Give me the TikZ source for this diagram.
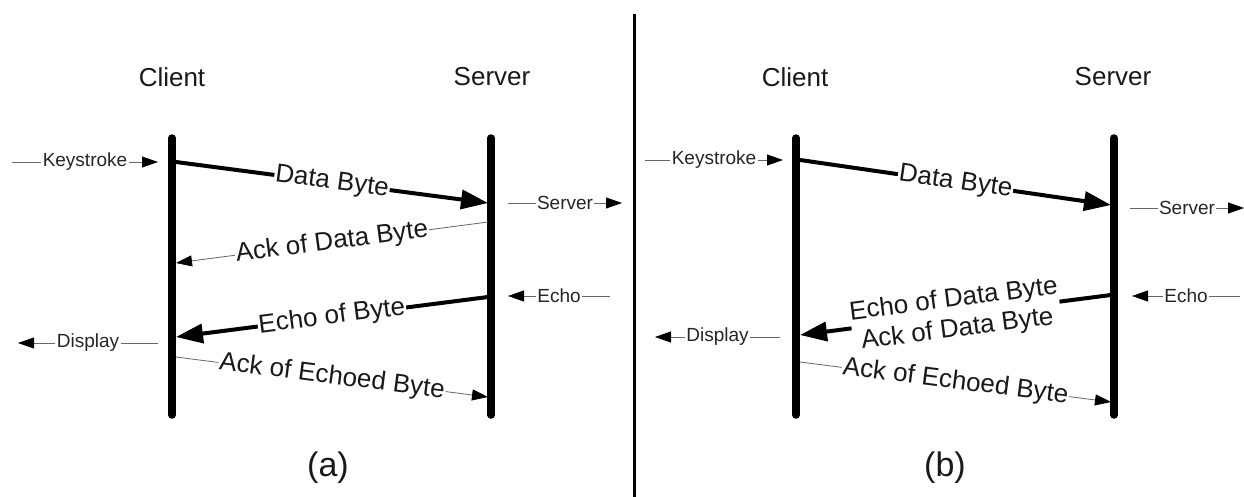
\documentclass[tikz,border=0pt]{standalone}
\usepackage{fontspec}
\setmainfont{Liberation Sans}
\usetikzlibrary{arrows.meta}
\begin{document}
\begin{tikzpicture}[x=1pt,y=-1pt,
  timeline/.style={line width=7.5pt, line cap=round},
  bigmsg/.style={line width=4pt, -{Triangle[length=27pt,width=19pt]}},
  smallmsg/.style={line width=0.8pt, draw=black!60, -{Triangle[length=16pt,width=11pt,color=black]}},
  lbl/.style={font=\fontsize{26}{30}\selectfont, fill=white, inner sep=1pt, sloped, text=black!90},
  smalllbl/.style={font=\fontsize{19}{22}\selectfont, fill=white, inner sep=1.5pt, text=black!85},
  titlelbl/.style={font=\fontsize{26}{30}\selectfont, text=black!90},
  subcaplbl/.style={font=\fontsize{34}{40}\selectfont, text=black!90}]
\useasboundingbox (0,0) rectangle (1244,497);
% divider
\coordinate (divT) at (634,14); \coordinate (divB) at (634,497);
\draw[line width=3pt] (divT) -- (divB);
% ---------- panel (a)
\node[titlelbl] (clientA) at (172,77) {Client};
\node[titlelbl] (serverA) at (492,77) {Server};
\coordinate (cAtop) at (172,138); \coordinate (cAbot) at (172,415);
\coordinate (sAtop) at (491,138); \coordinate (sAbot) at (491,415);
\draw[timeline] (cAtop) -- (cAbot);
\draw[timeline] (sAtop) -- (sAbot);
\coordinate (kA0) at (12,162); \coordinate (kA1) at (158,162);
\draw[smallmsg] (kA0) -- node[smalllbl] {Keystroke} (kA1);
\coordinate (dA0) at (176,162); \coordinate (dA1) at (488,203);
\draw[bigmsg] (dA0) -- node[lbl] {Data Byte} (dA1);
\coordinate (oA0) at (508,203); \coordinate (oA1) at (622,203);
\draw[smallmsg] (oA0) -- node[smalllbl] {Server} (oA1);
\coordinate (aA0) at (488,222); \coordinate (aA1) at (176,263);
\draw[smallmsg] (aA0) -- node[lbl] {Ack of Data Byte} (aA1);
\coordinate (eA0) at (610,296); \coordinate (eA1) at (508,296);
\draw[smallmsg] (eA0) -- node[smalllbl] {Echo} (eA1);
\coordinate (bA0) at (488,297); \coordinate (bA1) at (176,337);
\draw[bigmsg] (bA0) -- node[lbl] {Echo of Byte} (bA1);
\coordinate (pA0) at (158,343); \coordinate (pA1) at (18,343);
\draw[smallmsg] (pA0) -- node[smalllbl] {Display} (pA1);
\coordinate (xA0) at (176,357); \coordinate (xA1) at (488,397);
\draw[smallmsg] (xA0) -- node[lbl] {Ack of Echoed Byte} (xA1);
\node[subcaplbl] (capA) at (328,468) {(a)};
% ---------- panel (b)
\node[titlelbl] (clientB) at (795,77) {Client};
\node[titlelbl] (serverB) at (1113,77) {Server};
\coordinate (cBtop) at (796,138); \coordinate (cBbot) at (796,415);
\coordinate (sBtop) at (1114,138); \coordinate (sBbot) at (1114,415);
\draw[timeline] (cBtop) -- (cBbot);
\draw[timeline] (sBtop) -- (sBbot);
\coordinate (kB0) at (645,160); \coordinate (kB1) at (783,160);
\draw[smallmsg] (kB0) -- node[smalllbl] {Keystroke} (kB1);
\coordinate (dB0) at (800,160); \coordinate (dB1) at (1111,205);
\draw[bigmsg] (dB0) -- node[lbl] {Data Byte} (dB1);
\coordinate (oB0) at (1130,208); \coordinate (oB1) at (1244,208);
\draw[smallmsg] (oB0) -- node[smalllbl] {Server} (oB1);
\coordinate (eB0) at (1240,296); \coordinate (eB1) at (1132,296);
\draw[smallmsg] (eB0) -- node[smalllbl] {Echo} (eB1);
\coordinate (bB0) at (1111,295); \coordinate (bB1) at (800,335);
\draw[bigmsg] (bB0) -- node[lbl, align=center, inner sep=0pt] {Echo of Data Byte\\Ack of Data Byte} (bB1);
\coordinate (pB0) at (780,337); \coordinate (pB1) at (655,337);
\draw[smallmsg] (pB0) -- node[smalllbl] {Display} (pB1);
\coordinate (xB0) at (800,362); \coordinate (xB1) at (1111,402);
\draw[smallmsg] (xB0) -- node[lbl] {Ack of Echoed Byte} (xB1);
\node[subcaplbl] (capB) at (945,468) {(b)};
\end{tikzpicture}
\end{document}
